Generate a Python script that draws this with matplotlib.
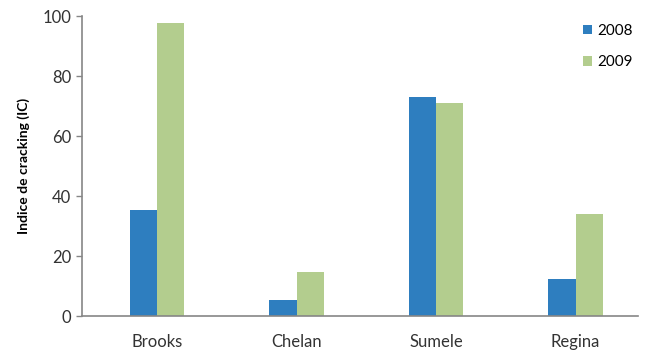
import numpy as np
import matplotlib
matplotlib.use('Agg')
import matplotlib.pyplot as plt

# data
sites = ['Brooks', 'Chelan', 'Sumele', 'Regina']
ic_2008 = [35.2, 5.3, 73.0, 12.5]
ic_2009 = [97.8, 14.8, 71.1, 34.1]
yticks = [0, 20, 40, 60, 80, 100]

plt.rcParams['font.family'] = ['Lato', 'DejaVu Sans']

fig = plt.figure(figsize=(6.5, 3.56), dpi=100)
ax = fig.add_axes([0.126, 0.112, 0.856, 0.843])

x = np.arange(len(sites))
w = 0.195
ax.bar(x - w/2, ic_2008, w, color='#2E7EBF', label='2008')
ax.bar(x + w/2, ic_2009, w, color='#B3CD8E', label='2009')

ax.set_ylim(0, 100)
ax.set_xlim(-0.54, 3.45)
ax.set_yticks(yticks)
ax.set_xticks(x)
ax.set_xticklabels(sites)
ax.tick_params(axis='x', length=0, pad=13, labelsize=12, colors='#333333')
ax.tick_params(axis='y', length=4, width=1, color='#868686', labelsize=12, labelcolor='#333333')
for s in ['top', 'right']:
    ax.spines[s].set_visible(False)
for s in ['left', 'bottom']:
    ax.spines[s].set_color('#868686')
    ax.spines[s].set_linewidth(1.2)

ax.set_ylabel('Indice de cracking (IC)', fontweight='bold', fontsize=10, labelpad=9)

ax.legend(loc='upper right', bbox_to_anchor=(1.015, 1.02), frameon=False, fontsize=11,
          handlelength=0.6, handleheight=0.6, handletextpad=0.35, labelspacing=1.15)

fig.savefig('out.png', dpi=100)
